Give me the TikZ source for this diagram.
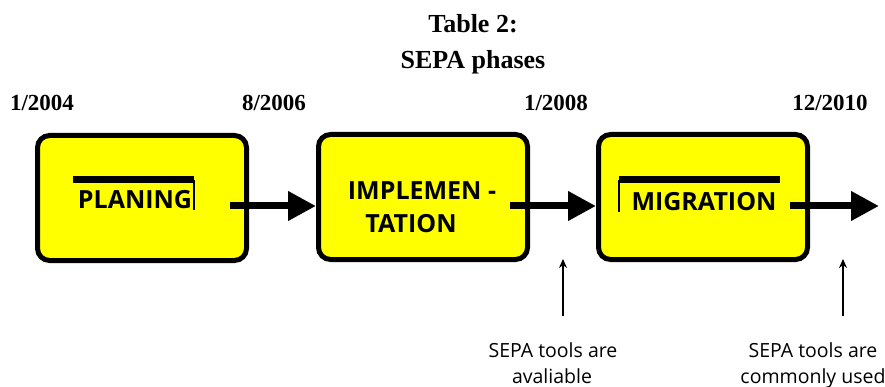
\documentclass[tikz,border=0pt]{standalone}
\usepackage{fontspec}
\setmainfont{Liberation Serif}
\newfontfamily\boxfont{Open Sans}
\usetikzlibrary{arrows.meta}
\definecolor{boxyellow}{RGB}{255,255,0}
\tikzset{
  phase/.style={draw=black, line width=5pt, fill=boxyellow, rounded corners=12pt, minimum width=209pt, minimum height=125pt, inner sep=0pt},
  phasetext/.style={font=\boxfont\bfseries\fontsize{25}{28}\selectfont, inner sep=0pt},
  datelabel/.style={font=\bfseries\fontsize{23}{26}\selectfont, inner sep=0pt},
  titletext/.style={font=\bfseries\fontsize{26}{30}\selectfont, inner sep=0pt, anchor=base},
  notetext/.style={font=\boxfont\fontsize{19.5}{24}\selectfont, inner sep=0pt, anchor=base},
  bigarrow/.style={line width=7pt, -{Triangle[length=28pt,width=28pt]}},
  thinarrow/.style={line width=1.3pt, -{Stealth[length=9pt,width=8pt]}},
  bar/.style={line width=7pt},
  thinbar/.style={line width=2pt},
}
\begin{document}
\begin{tikzpicture}[x=1pt,y=-1pt]
\useasboundingbox (0,0) rectangle (885,387);
\node[titletext] (title1) at (473,33) {Table 2:};
\node[titletext] (title2) at (473,69) {SEPA phases};
\node[datelabel] (d1) at (42,103) {1/2004};
\node[datelabel] (d2) at (274,103) {8/2006};
\node[datelabel] (d3) at (556,103) {1/2008};
\node[datelabel] (d4) at (830,103) {12/2010};
\node[phase] (b1) at (142,198) {};
\node[phase] (b2) at (423,197) {};
\node[phase] (b3) at (703,197) {};
\node[phasetext] (t1) at (135,200) {PLANING};
\node[phasetext] (t2a) at (422,191) {IMPLEMEN -};
\node[phasetext] (t2b) at (411,224) {TATION};
\node[phasetext] (t3) at (704,202) {MIGRATION};
% decorative bars
\coordinate (p1a) at (73,180); \coordinate (p1b) at (194,180); \coordinate (p1c) at (194,210);
\draw[bar] (p1a) -- (p1b);
\draw[thinbar] (p1b) -- (p1c);
\coordinate (m1a) at (619,212); \coordinate (m1b) at (619,180); \coordinate (m1c) at (780,180);
\draw[bar] (m1b) -- (m1c);
\draw[thinbar] (m1a) -- (m1b);
% arrows
\coordinate (a1s) at (230,206);
\coordinate (a2s) at (510,206);
\coordinate (a3s) at (790,206);
\coordinate (a3e) at (879,206);
\draw[bigarrow] (a1s) -- (b2.west|-a1s);
\draw[bigarrow] (a2s) -- (b3.west|-a2s);
\draw[bigarrow] (a3s) -- (a3e);
% notes
\coordinate (n1s) at (563,316); \coordinate (n1e) at (563,259);
\coordinate (n2s) at (843,316); \coordinate (n2e) at (843,259);
\draw[thinarrow] (n1s) -- (n1e);
\draw[thinarrow] (n2s) -- (n2e);
\node[notetext] (note1a) at (553,357) {SEPA tools are};
\node[notetext] (note1b) at (552,383) {avaliable};
\node[notetext] (note2a) at (813,357) {SEPA tools are};
\node[notetext] (note2b) at (813,383) {commonly used};
\end{tikzpicture}
\end{document}
